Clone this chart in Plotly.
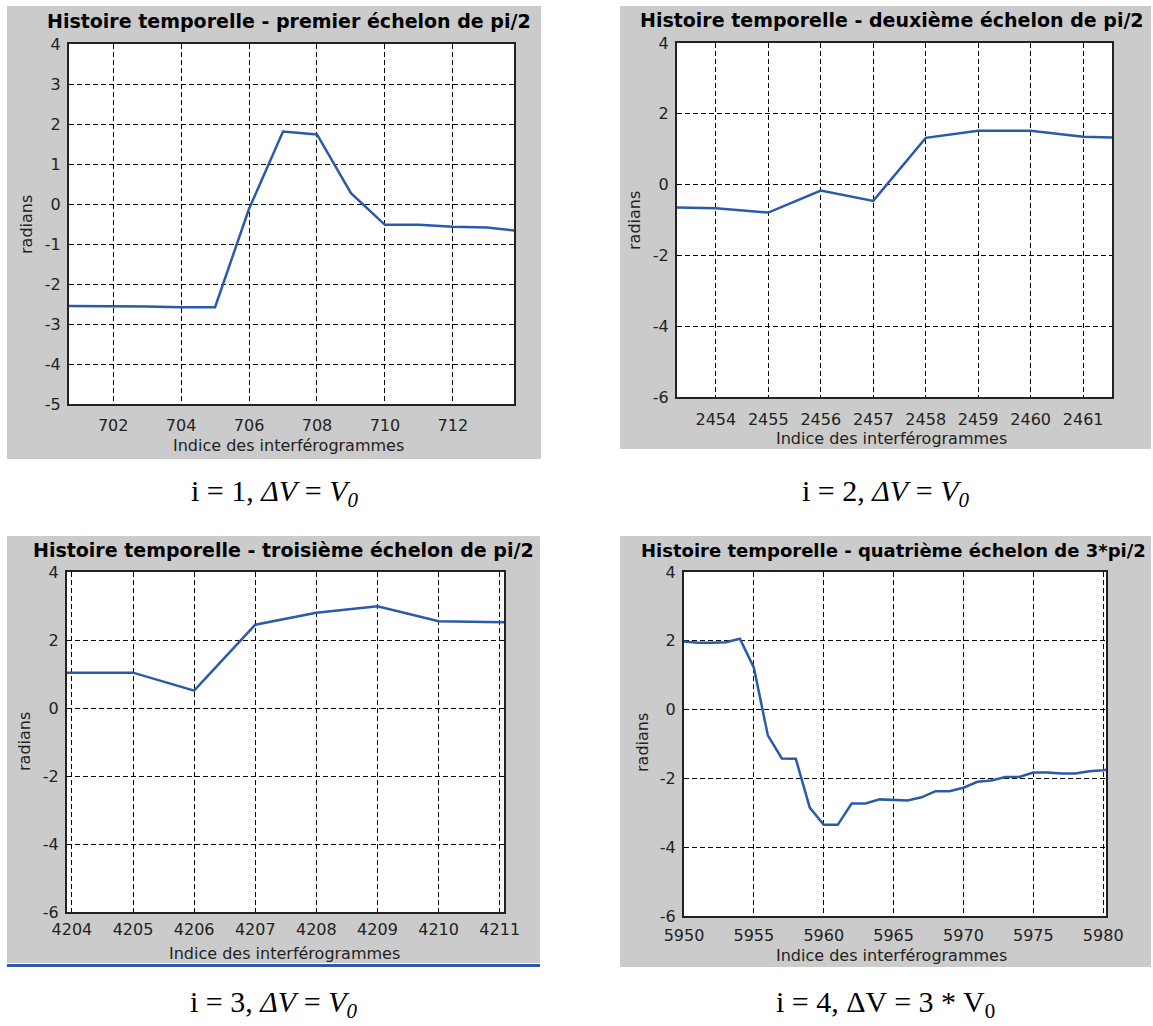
import plotly.graph_objects as go

# ---------------- data ----------------
x1 = [700, 701, 702, 703, 704, 705, 706, 707, 708, 709, 710, 711, 712, 713, 714]
y1 = [-2.55, -2.55, -2.55, -2.56, -2.58, -2.58, -0.12, 1.81, 1.74, 0.27, -0.52, -0.52, -0.57, -0.59, -0.68]

x2 = [2453, 2454, 2455, 2456, 2457, 2458, 2459, 2460, 2461, 2462]
y2 = [-0.64, -0.67, -0.79, -0.17, -0.46, 1.32, 1.52, 1.52, 1.35, 1.32]

x3 = [4203, 4204, 4205, 4206, 4207, 4208, 4209, 4210, 4211, 4212]
y3 = [1.04, 1.04, 1.04, 0.51, 2.45, 2.80, 2.99, 2.55, 2.50, 2.50]

x4 = list(range(5950, 5982))
y4 = [1.98, 1.94, 1.94, 1.96, 2.06, 1.22, -0.75, -1.42, -1.43, -2.85,
      -3.35, -3.35, -2.73, -2.73, -2.61, -2.62, -2.64, -2.55, -2.37, -2.37,
      -2.27, -2.10, -2.06, -1.96, -1.96, -1.83, -1.83, -1.86, -1.86, -1.79,
      -1.76, -1.70]

xticks1 = [702, 704, 706, 708, 710, 712]
yticks1 = [-5, -4, -3, -2, -1, 0, 1, 2, 3, 4]
xticks2 = [2454, 2455, 2456, 2457, 2458, 2459, 2460, 2461]
xticks3 = [4204, 4205, 4206, 4207, 4208, 4209, 4210, 4211]
xticks4 = [5950, 5955, 5960, 5965, 5970, 5975, 5980]
yticks234 = [-6, -4, -2, 0, 2, 4]

titles = [
    "Histoire temporelle - premier échelon de pi/2",
    "Histoire temporelle - deuxième échelon de pi/2",
    "Histoire temporelle - troisième échelon de pi/2",
    "Histoire temporelle - quatrième échelon de 3*pi/2",
]
xlabel = "Indice des interférogrammes"
ylabel = "radians"
captions = [
    "i = 1, <i>ΔV</i> = <i>V<sub>0</sub></i>",
    "i = 2, <i>ΔV</i> = <i>V<sub>0</sub></i>",
    "i = 3, <i>ΔV</i> = <i>V<sub>0</sub></i>",
    "i = 4, ΔV = 3 * V<sub>0</sub>",
]

# ---------------- layout geometry (pixels) ----------------
W, H = 1153, 1026
LINE = "#2A5AAA"
GRAY = "#CBCBCB"

def px(x):
    return x / W

def py(y):
    return 1 - y / H

panels = [
    dict(plot=(69, 514, 44, 404), gray=(7, 541, 6, 459), xr=[700.7, 713.8], yr=[-5, 4],
         xt=xticks1, yt=yticks1, x=x1, y=y1, title=(289, 21), tsize=19, xl=(288, 446), yl=(26, 225),
         cap=(274, 493), stand=6),
    dict(plot=(677, 1112, 43, 397), gray=(620, 1151, 6, 449), xr=[2453.26, 2461.55], yr=[-6, 4],
         xt=xticks2, yt=yticks234, x=x2, y=y2, title=(892, 20), tsize=19, xl=(891, 439), yl=(634, 221),
         cap=(885, 493), stand=7),
    dict(plot=(67, 504, 572, 912), gray=(7, 540, 536, 963), xr=[4203.92, 4211.07], yr=[-6, 4],
         xt=xticks3, yt=yticks234, x=x3, y=y3, title=(283, 550), tsize=19, xl=(284, 953), yl=(24, 742),
         cap=(273, 1004), stand=2),
    dict(plot=(684, 1106, 572, 916), gray=(620, 1151, 536, 967), xr=[5950, 5980.2], yr=[-6, 4],
         xt=xticks4, yt=yticks234, x=x4, y=y4, title=(893, 550), tsize=18, xl=(891, 955), yl=(642, 743),
         cap=(885, 1004), stand=4),
]

fig = go.Figure()
shapes = []
annotations = []
layout = {}

for i, p in enumerate(panels):
    n = "" if i == 0 else str(i + 1)
    x0, x1_, y0, y1_ = p["plot"]
    gx0, gx1, gy0, gy1 = p["gray"]
    shapes.append(dict(type="rect", xref="paper", yref="paper",
                       x0=px(gx0), x1=px(gx1), y0=py(gy1), y1=py(gy0),
                       fillcolor=GRAY, line=dict(width=0), layer="below"))
    shapes.append(dict(type="rect", xref="paper", yref="paper",
                       x0=px(x0), x1=px(x1_), y0=py(y1_), y1=py(y0),
                       fillcolor="white", line=dict(width=0), layer="below"))

    fig.add_trace(go.Scatter(x=p["x"], y=p["y"], mode="lines",
                             line=dict(color=LINE, width=2.5),
                             xaxis="x" + n, yaxis="y" + n, showlegend=False,
                             cliponaxis=True))

    common = dict(showline=True, linecolor="#222222", linewidth=2, mirror=True,
                  showgrid=True, gridcolor="black", gridwidth=1, griddash="5px,3px",
                  zeroline=False, ticks="", fixedrange=True, automargin=False,
                  tickfont=dict(family="DejaVu Sans", size=16, color="#222222"))
    layout["xaxis" + n] = dict(common, domain=[px(x0), px(x1_)], range=p["xr"],
                               anchor="y" + n, tickmode="array", tickvals=p["xt"],
                               ticktext=[str(v) for v in p["xt"]],
                               ticklabelstandoff=p["stand"])
    layout["yaxis" + n] = dict(common, domain=[py(y1_), py(y0)], range=p["yr"],
                               anchor="x" + n, tickmode="array", tickvals=p["yt"],
                               ticktext=[str(v) for v in p["yt"]],
                               ticklabelstandoff=3)

    tx, ty = p["title"]
    annotations.append(dict(text="<b>" + titles[i] + "</b>", xref="paper", yref="paper",
                            x=px(tx), y=py(ty), xanchor="center", yanchor="middle",
                            showarrow=False,
                            font=dict(family="DejaVu Sans", size=p["tsize"], color="black")))
    lx, ly = p["xl"]
    annotations.append(dict(text=xlabel, xref="paper", yref="paper",
                            x=px(lx), y=py(ly), xanchor="center", yanchor="middle",
                            showarrow=False,
                            font=dict(family="DejaVu Sans", size=16, color="#222222")))
    rx, ry = p["yl"]
    annotations.append(dict(text=ylabel, xref="paper", yref="paper", textangle=-90,
                            x=px(rx), y=py(ry), xanchor="center", yanchor="middle",
                            showarrow=False,
                            font=dict(family="DejaVu Sans", size=16, color="#222222")))
    cx, cy = p["cap"]
    annotations.append(dict(text=captions[i], xref="paper", yref="paper",
                            x=px(cx), y=py(cy), xanchor="center", yanchor="middle",
                            showarrow=False,
                            font=dict(family="Liberation Serif", size=30, color="black")))

# blue rule under the third panel
shapes.append(dict(type="line", xref="paper", yref="paper",
                   x0=px(7), x1=px(540), y0=py(965.5), y1=py(965.5),
                   line=dict(color=LINE, width=3), layer="above"))

fig.update_layout(
    width=W, height=H, margin=dict(l=0, r=0, t=0, b=0, pad=0, autoexpand=False),
    paper_bgcolor="white", plot_bgcolor="white",
    shapes=shapes, annotations=annotations, showlegend=False,
    **layout,
)

fig.write_html(
    "out.html",
    config={"displayModeBar": False, "responsive": False},
    post_script="document.body.style.margin='0';document.body.style.overflow='hidden';"
                "document.documentElement.style.overflow='hidden';",
)
